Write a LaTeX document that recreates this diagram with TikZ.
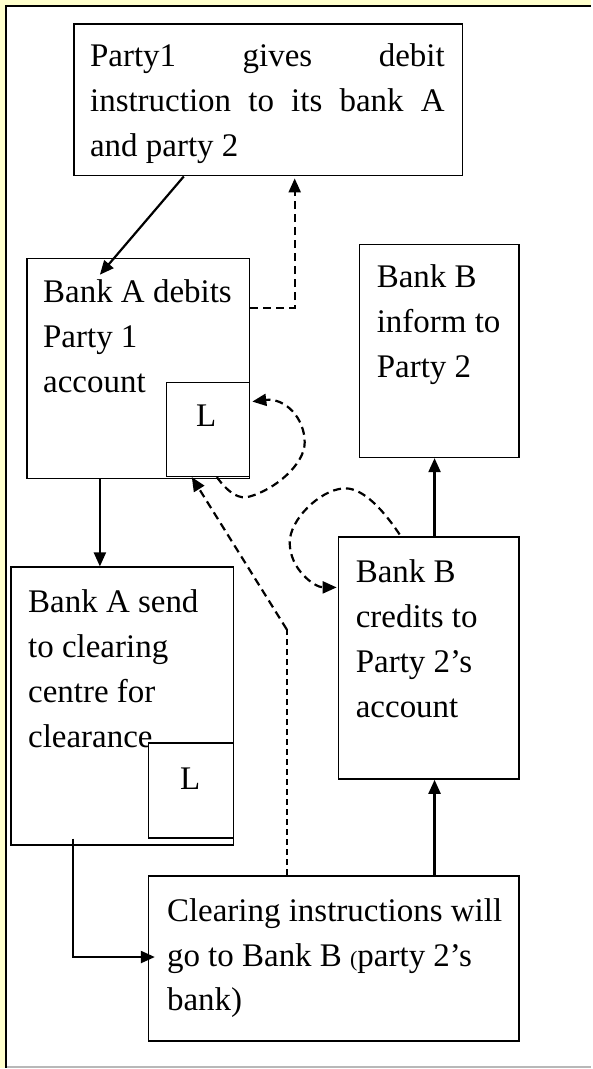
\documentclass[tikz,border=0pt]{standalone}
\usepackage{fontspec}
\setmainfont{Liberation Serif}
\usetikzlibrary{arrows.meta}
\definecolor{pageyellow}{HTML}{FFFFCC}
\definecolor{rulegray}{gray}{0.72}

\tikzset{
  box/.style={draw, line width=1.6pt, fill=white, inner sep=0pt, anchor=north west},
  txt/.style={anchor=base west, inner sep=0pt, font=\fontsize{33}{45}\selectfont},
  tip/.style={-{Triangle[length=14pt,width=12pt]}},
  flow/.style={line width=2.2pt, tip},
  dflow/.style={line width=2.2pt, dash pattern=on 8pt off 5pt, tip},
  thindash/.style={line width=1.7pt, dash pattern=on 6pt off 4pt},
}

\begin{document}
\begin{tikzpicture}[x=1pt,y=-1pt]
  % page and frame
  \fill[pageyellow] (0,0) rectangle (592,1069);
  \fill[white] (5,5) rectangle (592,1069);
  \draw[line width=2.2pt] (6,1069) -- (6,6) -- (592,6);
  \draw[rulegray, line width=1.6pt] (7,1068) -- (592,1068);
  \useasboundingbox (0,0) rectangle (592,1069);

  % boxes
  \node[box, minimum width=389pt, minimum height=152pt] (top) at (73,23) {};
  \node[box, minimum width=223pt, minimum height=220pt] (bA) at (26,258) {};
  \node[box, minimum width=160pt, minimum height=213pt] (bBi) at (359,244) {};
  \node[box, minimum width=181pt, minimum height=242pt] (bBc) at (338,537) {};
  \node[box, minimum width=223pt, minimum height=278pt] (bAs) at (10,567) {};
  \node[box, minimum width=371pt, minimum height=165pt] (clr) at (148,876) {};

  % texts
  \node[txt] (ttop) at (90,67) {\parbox[t]{355pt}{%
      \makebox[355pt][s]{Party1 gives debit}\\
      \makebox[355pt][s]{instruction to its bank A}\\
      and party 2}};
  \node[txt] (tbA) at (43,303) {\parbox[t]{200pt}{Bank A debits\\ Party 1\\ account}};
  \node[txt] (tbBi) at (377,288) {\parbox[t]{140pt}{Bank B\\ inform to\\ Party 2}};
  \node[txt] (tbBc) at (356,583) {\parbox[t]{160pt}{Bank B\\ credits to\\ Party 2’s\\ account}};
  \node[txt] (tbAs) at (28,613) {\parbox[t]{200pt}{Bank A send\\ to clearing\\ centre for\\ clearance}};
  \node[txt] (tclr) at (167,922) {\parbox[t]{350pt}{Clearing instructions will\\
      go to Bank B {\fontsize{22}{22}\selectfont(}party 2’s\\ bank)}};

  % ledger boxes
  \node[box, minimum width=83pt, minimum height=94pt] (L1) at (166,382) {};
  \node[txt] (tL1) at (196,427) {L};
  \node[box, minimum width=85pt, minimum height=95pt] (L2) at (148,743) {};
  \node[txt] (tL2) at (180,790) {L};

  % solid flows
  \draw[flow] ([xshift=111pt]top.south west) -- ([xshift=74pt,yshift=-17pt]bA.north west);
  \draw[flow] ([xshift=74pt]bA.south west) -- ([xshift=90pt]bAs.north west);
  \draw[flow] ([xshift=97pt]bBc.north west) -- ([xshift=76pt]bBi.south west);
  \draw[flow] ([xshift=287pt]clr.north west) -- ([xshift=97pt]bBc.south west);
  \draw[flow] ([xshift=63pt,yshift=7pt]bAs.south west) |- ([xshift=7pt,yshift=-82pt]clr.north west);

  % dashed flows
  \draw[dflow] ([yshift=-50pt]bA.north east) -| ([xshift=222pt,yshift=-2pt]top.south west);
  \draw[dflow] ([xshift=51pt]L1.south west)
      .. controls (230,495) and (240,500) .. (250,497)
      .. controls (275,490) and (305,465) .. (305,443)
      .. controls (305,418) and (285,398) .. ([xshift=2pt,yshift=-20pt]L1.north east);
  \draw[dflow] ([xshift=62pt,yshift=2pt]bBc.north west)
      .. controls (380,505) and (360,487) .. (343,489)
      .. controls (320,491) and (290,520) .. (290,543)
      .. controls (290,570) and (315,588) .. ([xshift=-1pt,yshift=-51pt]bBc.north west);
  \coordinate (kink) at (287,630);
  \draw[thindash] ([xshift=139pt]clr.north west) -- (kink);
  \draw[dflow] (kink) -- ([xshift=26pt]L1.south west);
\end{tikzpicture}
\end{document}
